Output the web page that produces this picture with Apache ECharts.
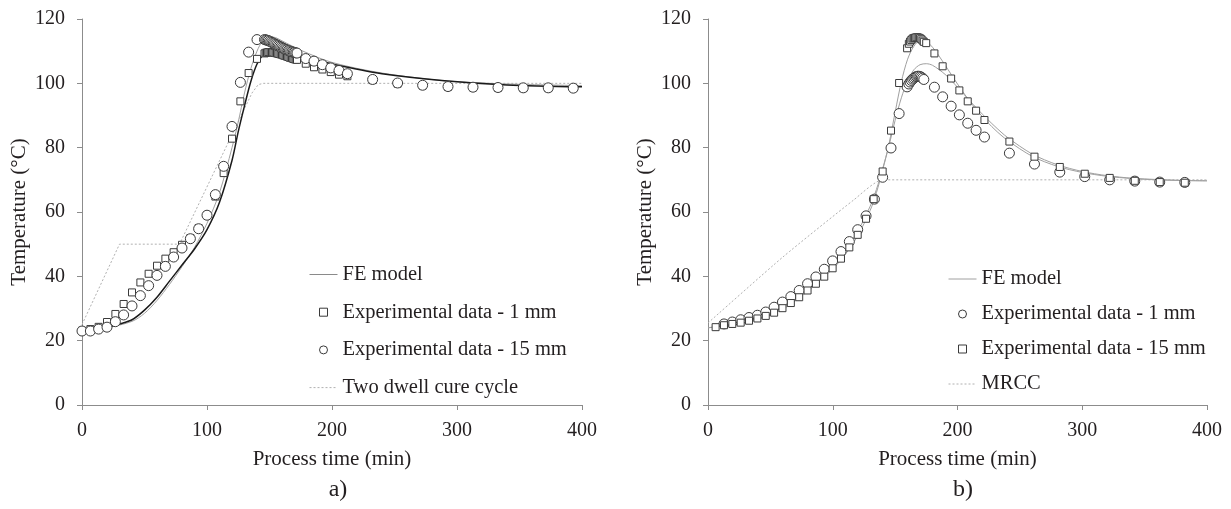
<!DOCTYPE html>
<html>
<head>
<meta charset="utf-8">
<script src="https://cdn.jsdelivr.net/npm/echarts@6/dist/echarts.min.js"></script>
<style>html,body{margin:0;padding:0;background:#fff}#c{width:1231px;height:509px}</style>
</head>
<body>
<div id="c"></div>
<script>
// ---------- Panel a) ----------
const aSqT = [0,6.7,13.3,20,26.7,33.3,40,46.7,53.3,60,66.7,73.3,80,86.7,93.3,100,106.7,113.3,120,126.7,133.3,140,
  146,147,148,149,150,151,152,153,154,155,156,157,158,159,160,161,162,163,164,165,166,167,168,169,170,171,172,
  179,185.6,192.3,199,205.6,212.3,232.5,252.5,272.5,292.8,312.8,332.8,353,373,393];
const aSqV = [23.1,23.6,24.3,25.8,28.3,31.4,35,38.1,40.8,43.3,45.5,47.5,49.8,51.9,55,59,64.8,72.1,82.8,94.4,103.2,107.6,
  109.3,109.5,109.6,109.7,109.7,109.7,109.6,109.6,109.5,109.4,109.3,109.2,109.1,109.0,108.9,108.7,108.6,108.5,108.3,108.2,108.0,107.9,107.8,107.6,107.5,107.4,107.3,
  106.1,105,104.3,103.5,102.7,102.2,101,99.9,99.3,98.9,98.7,98.6,98.5,98.5,98.5];
const aCiT = [0,6.7,13.3,20,26.7,33.3,40,46.7,53.3,60,66.7,73.3,80,86.7,93.3,100,106.7,113.3,120,126.7,133.3,140,
  146,147,148,149,150,151,152,153,154,155,156,157,158,159,160,161,162,163,164,165,166,167,168,169,170,171,172,
  179,185.6,192.3,199,205.6,212.3,232.5,252.5,272.5,292.8,312.8,332.8,353,373,393];
const aCiV = [23,23,23.6,24.2,25.9,28,30.8,34,37.1,40.3,43.1,46,48.8,51.7,54.8,59,65.4,74.2,86.6,100.3,109.7,113.6,
  113.6,113.5,113.4,113.3,113.1,112.9,112.7,112.5,112.3,112.1,111.9,111.7,111.5,111.3,111.1,110.9,110.7,110.5,110.4,110.2,110.1,109.9,109.8,109.7,109.6,109.5,109.4,
  107.7,106.9,105.8,104.8,104,103,101.2,100.1,99.4,99,98.8,98.7,98.6,98.6,98.5];
const aFeGreyT = [0,20,40,50,60,70,80,90,100,110,120,125,130,135,140,145,150,155,160,175,200,240,290,340,400];
const aFeGreyV = [22.8,24,26,28.5,32.5,37.5,43,49,56.5,66,80,88,97,104.5,110,113.5,114.5,114.2,113.2,110.3,106.5,103.2,100.8,99.8,99.3];
const aFeBlackT = [0,10,20,30,40,50,60,70,80,90,100,110,120,125,130,135,140,145,150,160,180,200,240,290,340,400];
const aFeBlackV = [22.8,23.3,24.2,25.2,26.5,29.5,33.5,38.5,43.5,48.5,54.5,63,76,85,93,100.5,106,109,110.3,110.2,108,106,103,100.8,99.5,98.9];
const aCureT = [0,30,78,136,141,145,400];
const aCureV = [25,50,50,97,99.6,100,100];

// ---------- Panel b) ----------
const bCiT = [12.8,19.5,26.2,32.9,39.6,46.3,53,59.7,66.4,73.1,79.8,86.5,93.2,99.9,106.6,113.3,120,126.7,133.4,140,146.7,153.2,
  159.6,161,162,163,164,165,166,167,168,169,170,171,172,173,
  181.5,188.1,194.9,201.5,208.2,214.9,221.6,241.6,261.7,282,302,322,342.1,362.1,382.2];
const bCiV = [25.2,25.8,26.5,27.2,27.9,28.9,30.4,32,33.7,35.6,37.7,39.8,42.2,44.8,47.7,50.8,54.5,58.8,64,70.8,79.9,90.6,
  98.9,99.8,100.4,100.9,101.3,101.6,101.9,102.1,102.2,102.2,102.1,101.9,101.6,101.2,
  98.8,95.8,92.9,90.2,87.6,85.4,83.3,78.3,74.9,72.4,71,70,69.6,69.3,69.2];
const bSqT = [6.1,12.8,19.5,26.2,32.9,39.6,46.3,53,59.7,66.4,73.1,79.8,86.5,93.2,99.9,106.6,113.3,120,126.7,132.8,140,146.7,153.2,
  159.6,161,162,163,164,165,166,167,168,169,170,171,172,173,174.9,
  181.5,188.1,194.9,201.5,208.2,214.9,221.6,241.6,261.7,282,302,322,342.1,362.1,382.2];
const bSqV = [24.2,24.8,25.2,25.6,26.2,26.9,27.7,28.7,30.1,31.7,33.5,35.6,37.7,39.9,42.5,45.5,49,52.9,57.9,64,72.6,85.3,100.1,
  110.9,112.3,113,113.5,113.9,114.1,114.2,114.3,114.3,114.2,114.0,113.7,113.3,112.9,112.5,
  109.3,105.3,101.5,97.8,94.4,91.5,88.6,81.9,77.2,74,71.9,70.6,69.7,69.3,69.1];
const bFeUpT = [0,20,40,60,80,100,110,120,130,135,140,145,150,155,160,165,170,175,180,185,190,200,210,220,230,240,260,280,300,320,340,360,380,400];
const bFeUpV = [24,25,26.8,29.8,35.4,42.3,46.8,52.6,60.5,66,73,81,91,100.5,107.5,111.5,113.3,113,111.2,108.6,105.7,99.8,94.3,89.6,85.6,82.3,77.3,74.2,72.3,71.1,70.4,70,69.8,69.7];
const bFeLoT = [0,20,40,60,80,100,110,120,130,135,140,145,150,155,160,165,170,175,180,190,200,210,220,230,240,260,280,300,320,340,360,380,400];
const bFeLoV = [24,25.3,27.5,31.2,36.8,43.8,48.3,54,61.8,67,73.5,80.5,88.5,95.5,100.8,104.2,105.8,106.1,105.6,102.8,98.8,94.5,90.4,86.6,83.2,78,74.7,72.6,71.3,70.5,70.1,69.8,69.7];
const bMrccT = [0,60,117,140,400];
const bMrccV = [25.5,46,63.8,70,70];

// tick labels / texts
const xTicks = [0,100,200,300,400];
const yTicks = [0,20,40,60,80,100,120];
const legendA = ['FE model','Experimental data - 1 mm','Experimental data - 15 mm','Two dwell cure cycle'];
const legendB = ['FE model','Experimental data - 1 mm','Experimental data - 15 mm','MRCC'];

const zip = (t, v) => t.map((x, i) => [x, v[i]]);
const FONT = 'Liberation Serif';
const axisCol = '#8c8c8c';
const txtCol = '#231f20';
const SQUARE = 'path://M0,0H10V10H0Z';

function xAxis(gi) {
  return {
    type: 'value', gridIndex: gi, min: xTicks[0], max: xTicks[xTicks.length - 1], interval: xTicks[1] - xTicks[0],
    name: 'Process time (min)', nameLocation: 'middle', nameGap: 44,
    nameTextStyle: {fontFamily: FONT, fontSize: 21, color: txtCol},
    axisLine: {lineStyle: {color: axisCol, width: 1}},
    axisTick: {show: true, inside: false, length: 5, lineStyle: {color: axisCol}},
    axisLabel: {fontFamily: FONT, fontSize: 20, color: txtCol, margin: 16},
    splitLine: {show: false}
  };
}
function yAxis(gi) {
  return {
    type: 'value', gridIndex: gi, min: yTicks[0], max: yTicks[yTicks.length - 1], interval: yTicks[1] - yTicks[0],
    name: 'Temperature (°C)', nameLocation: 'middle', nameGap: 52, nameRotate: 90,
    nameTextStyle: {fontFamily: FONT, fontSize: 21, color: txtCol},
    axisLine: {show: true, lineStyle: {color: axisCol, width: 1}},
    axisTick: {show: true, inside: false, length: 5, lineStyle: {color: axisCol}},
    axisLabel: {fontFamily: FONT, fontSize: 20, color: txtCol, margin: 17},
    splitLine: {show: false}
  };
}
function lineS(name, gi, t, v, color, width, type, z, smooth) {
  return {
    type: 'line', name, xAxisIndex: gi, yAxisIndex: gi, data: zip(t, v),
    showSymbol: false, symbol: 'none', smooth: smooth, z: z || 2,
    lineStyle: {color, width, type}, itemStyle: {color},
    emphasis: {disabled: true}
  };
}
function scatS(name, gi, t, v, sym, size) {
  return {
    type: 'scatter', name, xAxisIndex: gi, yAxisIndex: gi, data: zip(t, v),
    symbol: sym, symbolSize: size, z: 3,
    itemStyle: {color: '#ffffff', borderColor: '#3a3a3a', borderWidth: 1, opacity: 1},
    emphasis: {disabled: true}
  };
}

const chart = echarts.init(document.getElementById('c'), null, {renderer: 'canvas'});
const legendText = {fontFamily: FONT, fontSize: 20.5, color: txtCol, lineHeight: 20};
const hollow = {color: '#fff', borderColor: '#3a3a3a', borderWidth: 1};
const noSym = {color: 'transparent', borderColor: 'transparent', borderWidth: 0};
chart.setOption({
  animation: false,
  backgroundColor: '#fff',
  title: [
    {text: 'a)', left: 333, top: 473, textAlign: 'center', textStyle: {fontFamily: FONT, fontSize: 24, fontWeight: 'normal', color: txtCol}},
    {text: 'b)', left: 958, top: 473, textAlign: 'center', textStyle: {fontFamily: FONT, fontSize: 24, fontWeight: 'normal', color: txtCol}}
  ],
  grid: [
    {left: 82, right: 649, top: 19, bottom: 104},
    {left: 708, right: 24, top: 19, bottom: 104}
  ],
  xAxis: [xAxis(0), xAxis(1)],
  yAxis: [yAxis(0), yAxis(1)],
  legend: [
    {
      orient: 'vertical', left: 304, top: 259, itemGap: 16.7, itemWidth: 28, itemHeight: 8,
      symbolKeepAspect: true,
      textStyle: legendText, selectedMode: false,
      itemStyle: {borderWidth: 1}, lineStyle: {width: 1},
      data: [
        {name: legendA[0], itemStyle: noSym, lineStyle: {color: '#8a8a8a', width: 1}},
        {name: legendA[1], icon: SQUARE, symbolKeepAspect: true, itemStyle: hollow},
        {name: legendA[2], icon: 'circle', symbolKeepAspect: true, itemStyle: hollow},
        {name: legendA[3], itemStyle: noSym}
      ]
    },
    {
      orient: 'vertical', left: 943, top: 263.5, itemGap: 14, itemWidth: 28, itemHeight: 8,
      symbolKeepAspect: true,
      textStyle: legendText, selectedMode: false,
      itemStyle: {borderWidth: 1}, lineStyle: {width: 1},
      data: [
        {name: legendB[0], itemStyle: noSym, lineStyle: {color: '#a0a0a0', width: 1}},
        {name: legendB[1], icon: 'circle', symbolKeepAspect: true, itemStyle: hollow},
        {name: legendB[2], icon: SQUARE, symbolKeepAspect: true, itemStyle: hollow},
        {name: legendB[3], itemStyle: noSym}
      ]
    }
  ],
  series: [
    lineS(legendA[0], 0, aFeGreyT, aFeGreyV, '#a0a0a0', 1, 'solid', 2, 0.3),
    lineS(legendA[0], 0, aFeBlackT, aFeBlackV, '#1a1a1a', 1.5, 'solid', 2, 0.3),
    lineS(legendA[3], 0, aCureT, aCureV, '#b0b0b0', 1, [2, 2], 1, false),
    scatS(legendA[1], 0, aSqT, aSqV, 'rect', 7),
    scatS(legendA[2], 0, aCiT, aCiV, 'circle', 10),
    lineS(legendB[0], 1, bFeUpT, bFeUpV, '#a0a0a0', 1, 'solid', 2, 0.3),
    lineS(legendB[0], 1, bFeLoT, bFeLoV, '#a0a0a0', 1, 'solid', 2, 0.3),
    lineS(legendB[3], 1, bMrccT, bMrccV, '#b0b0b0', 1, [2, 2], 1, 0.2),
    scatS(legendB[1], 1, bCiT, bCiV, 'circle', 10),
    scatS(legendB[2], 1, bSqT, bSqV, 'rect', 7)
  ]
});
</script>
</body>
</html>
